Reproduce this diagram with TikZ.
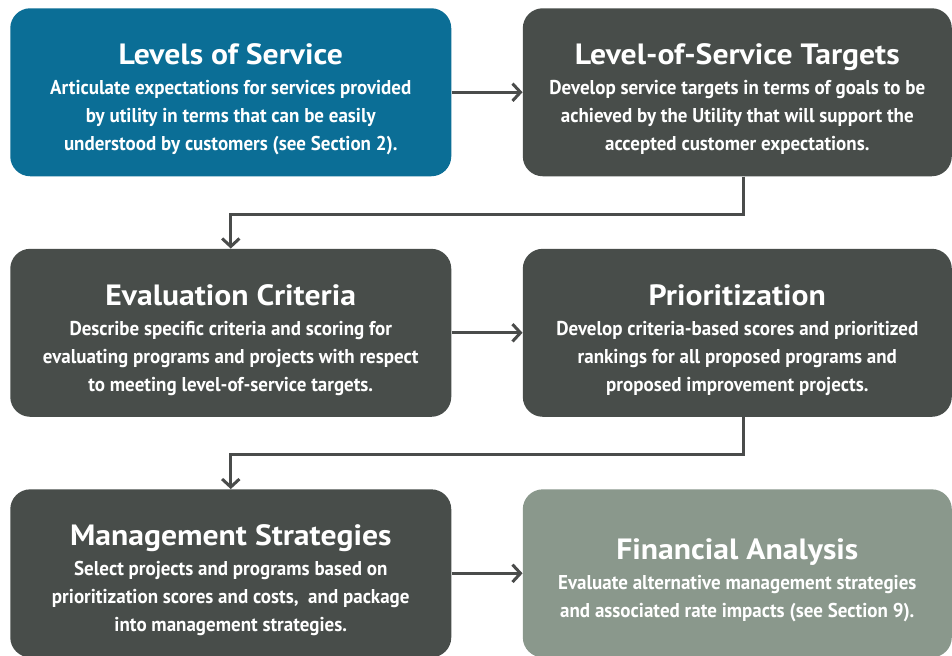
\documentclass[tikz,border=0pt]{standalone}
\usepackage{fontspec}
\setmainfont{PT Sans}
\newfontfamily\headfont{PT Sans}[FakeStretch=1.08]
\newfontfamily\bodyfont{PT Sans}[FakeStretch=0.95]
\usepackage{xcolor}
\usetikzlibrary{positioning, arrows.meta}

\definecolor{col-blue}{HTML}{0B6E96}
\definecolor{col-dark}{HTML}{484D4A}
\definecolor{col-sage}{HTML}{8A988C}
\definecolor{col-line}{HTML}{4A4C4B}
\newcommand{\boxhead}[1]{{\headfont\bfseries\fontsize{22}{24}\selectfont\rule{0pt}{26pt}#1}}

\begin{document}
\begin{tikzpicture}
[
box-a/.style={rectangle, rounded corners=15pt, minimum width=330.75pt, minimum height=126pt, inner sep=0pt, text=white, align=center, font=\bodyfont\bfseries\fontsize{15}{21}\selectfont},
box-b/.style={box-a, minimum width=321.75pt},
line-a/.style={draw=col-line, line width=2.25pt},
arrow-a/.style={line-a, -{Straight Barb[length=6pt, width=13pt]}}
]

\path [use as bounding box, fill=white] (0,0) rectangle (714pt,-492pt);

\node (los)  [box-a, fill=col-blue, anchor=north west] at (7.5pt,-6pt)
  {\boxhead{Levels of Service}\\[1.5pt] Articulate expectations for services provided\\ by utility in terms that can be easily\\ understood by customers (see Section 2).};
\node (lost) [box-b, fill=col-dark, right = 53.25pt of los]
  {\boxhead{Level-of-Service Targets}\\[1.5pt] Develop service targets in terms of goals to be\\ achieved by the Utility that will support the\\ accepted customer expectations.};
\node (eval) [box-a, fill=col-dark, below = 54pt of los]
  {\boxhead{Evaluation Criteria}\\[1.5pt] Describe specific criteria and scoring for\\ evaluating programs and projects with respect\\ to meeting level-of-service targets.};
\node (prio) [box-b, fill=col-dark, below = 54pt of lost]
  {\boxhead{Prioritization}\\[1.5pt] Develop criteria-based scores and prioritized\\ rankings for all proposed programs and\\ proposed improvement projects.};
\node (mgmt) [box-a, fill=col-dark, below = 54pt of eval]
  {\boxhead{Management Strategies}\\[1.5pt] Select projects and programs based on\\ prioritization scores and costs,~ and package\\ into management strategies.};
\node (fin)  [box-b, fill=col-sage, below = 54pt of prio]
  {\boxhead{Financial Analysis}\\[1.5pt] Evaluate alternative management strategies\\ and associated rate impacts (see Section 9).};

\draw [arrow-a] (los)  -- (lost);
\draw [arrow-a] (eval) -- (prio);
\draw [arrow-a] (mgmt) -- (fin);
\draw [arrow-a] ([xshift=4.5pt]lost.south) -- ++(0,-28.5pt) -| (eval.north);
\draw [arrow-a] ([xshift=4.5pt]prio.south) -- ++(0,-27.75pt) -| (mgmt.north);

\end{tikzpicture}
\end{document}
